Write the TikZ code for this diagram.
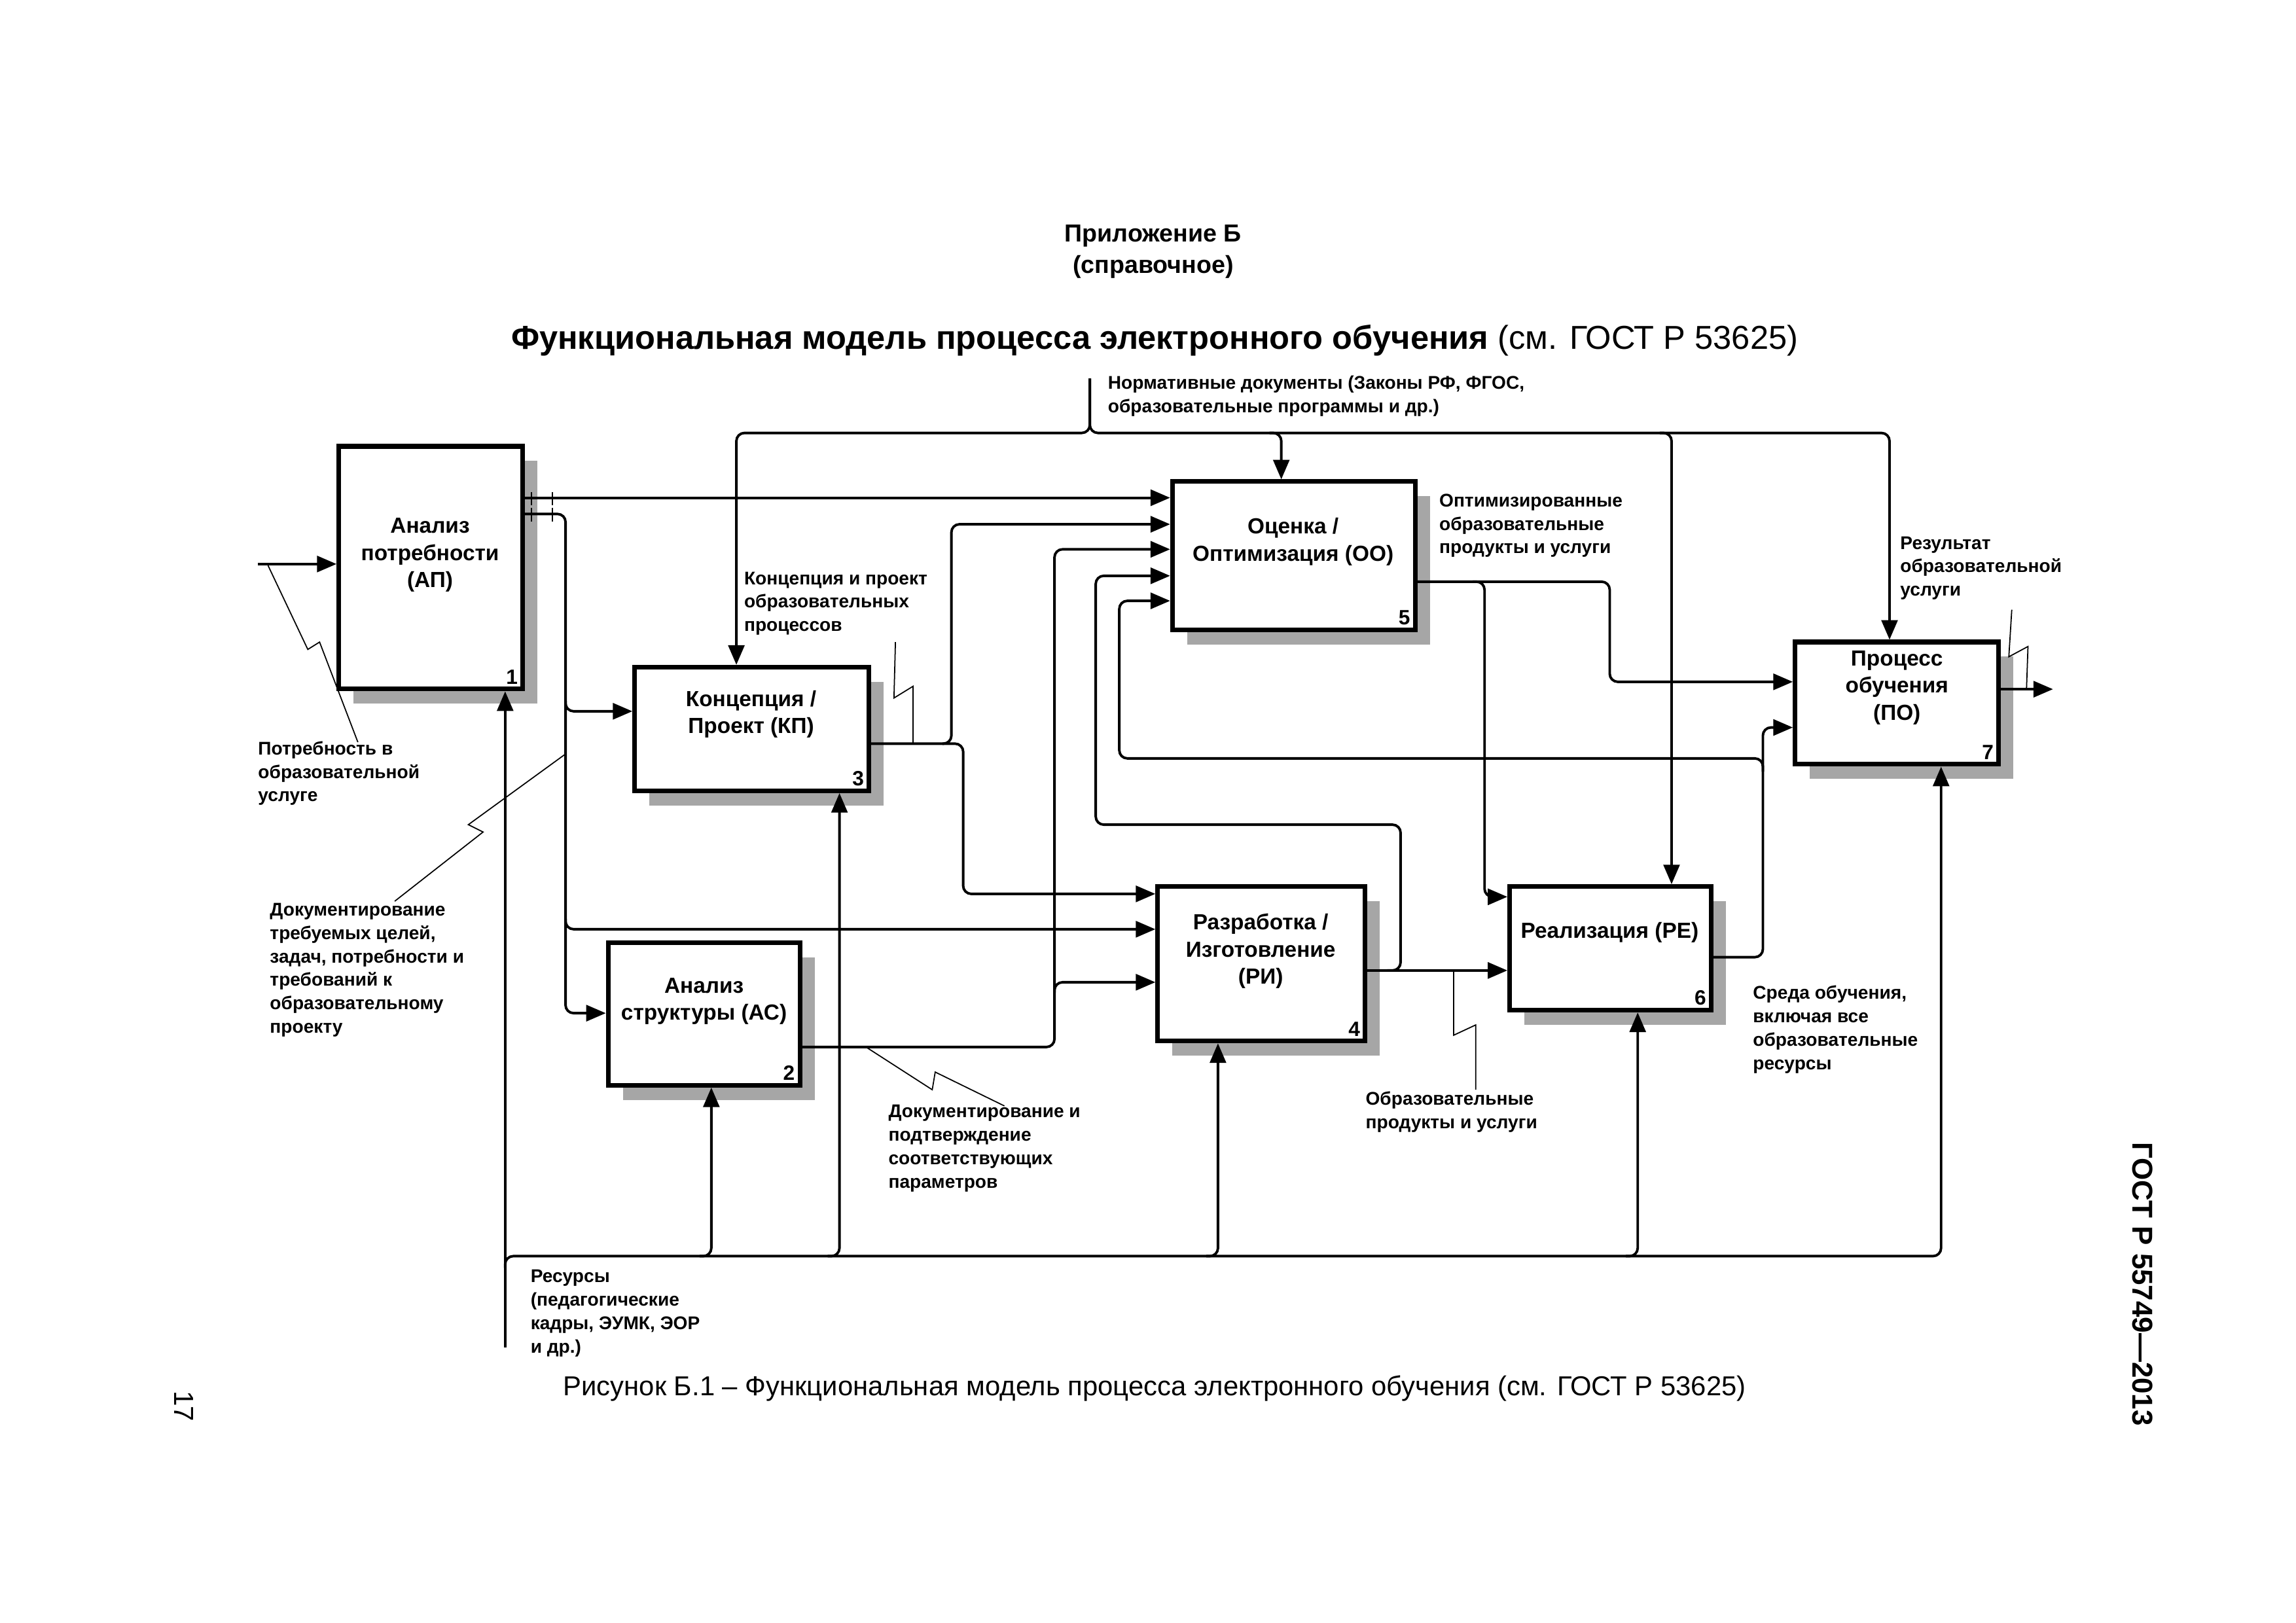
\documentclass[tikz,border=0pt]{standalone}
\usepackage{fontspec}
\setmainfont{Liberation Sans}
\usetikzlibrary{arrows.meta, shadows}

\tikzset{
  funcbox/.style={draw, line width=2pt, fill=white, inner sep=0pt,
    drop shadow={shadow xshift=6.4pt, shadow yshift=-6.4pt, fill=black!35, opacity=1}},
  boxtext/.style={align=center, inner sep=0pt, font=\fontsize{9.5}{11.8}\selectfont\bfseries},
  boxnum/.style={anchor=south east, inner sep=3pt, font=\fontsize{9}{10}\selectfont\bfseries},
  lbl/.style={anchor=north west, align=left, inner sep=0pt, font=\fontsize{8}{10.2}\selectfont\bfseries},
  flow/.style={line width=1.1pt, rounded corners=3.5pt},
  arr/.style={flow, -{Triangle[length=8.5pt, width=7pt]}},
  leader/.style={line width=0.5pt},
}

\begin{document}
\begin{tikzpicture}[x=0.0225cm, y=-0.0225cm]
    \useasboundingbox (0,0) rectangle (1559,1102);

    % Heading
    \node (annex) at (783,160) {\fontsize{10.7}{12}\selectfont\bfseries Приложение Б};
    \node (annexkind) at (783,181) {\fontsize{10.7}{12}\selectfont\bfseries (справочное)};
    \node (title) at (784,231) {\fontsize{14.4}{16}\selectfont\bfseries Функциональная модель процесса электронного обучения \mdseries(см. ГОСТ Р 53625)};
    \node (caption) at (784,943) {\fontsize{11.9}{13}\selectfont Рисунок Б.1 – Функциональная модель процесса электронного обучения (см. ГОСТ Р 53625)};
    \node[rotate=-90] (pagenum) at (125,955) {\fontsize{12}{14}\selectfont 17};
    \node[rotate=-90] (gost) at (1455,872) {\fontsize{12.5}{14}\selectfont\bfseries ГОСТ Р 55749—2013};

    % Box for needs analysis
    \node[funcbox, minimum width=2.81cm, minimum height=3.71cm] (AP) at (292.5,385.5) {};
    \node[boxtext] (APtext) at (292,377) {Анализ\\потребности\\(АП)};
    \node[boxnum] (APnum) at (AP.south east) {1};

    % Box for structure analysis
    \node[funcbox, minimum width=2.93cm, minimum height=2.18cm] (AS) at (478,688.5) {};
    \node[boxtext] (AStext) at (478,680) {Анализ\\структуры (АС)};
    \node[boxnum] (ASnum) at (AS.south east) {2};

    % Box for concept / project
    \node[funcbox, minimum width=3.58cm, minimum height=1.89cm] (KP) at (510.5,495) {};
    \node[boxtext] (KPtext) at (510,485) {Концепция /\\Проект (КП)};
    \node[boxnum] (KPnum) at (KP.south east) {3};

    % Box for development
    \node[funcbox, minimum width=3.17cm, minimum height=2.36cm] (RI) at (856.5,654.5) {};
    \node[boxtext] (RItext) at (856,646) {Разработка /\\Изготовление\\(РИ)};
    \node[boxnum] (RInum) at (RI.south east) {4};

    % Box for evaluation
    \node[funcbox, minimum width=3.71cm, minimum height=2.27cm] (OO) at (878.5,377.5) {};
    \node[boxtext] (OOtext) at (878,368) {Оценка /\\Оптимизация (ОО)};
    \node[boxnum] (OOnum) at (OO.south east) {5};

    % Box for realisation
    \node[funcbox, minimum width=3.08cm, minimum height=1.89cm] (RE) at (1093.5,644) {};
    \node[boxtext] (REtext) at (1093,633) {Реализация (РЕ)};
    \node[boxnum] (REnum) at (RE.south east) {6};

    % Box for learning process
    \node[funcbox, minimum width=3.11cm, minimum height=1.87cm] (PO) at (1288,477.5) {};
    \node[boxtext] (POtext) at (1288,467) {Процесс\\обучения\\(ПО)};
    \node[boxnum] (POnum) at (PO.south east) {7};

    % Free ends
    \coordinate (needin) at (175,383);
    \coordinate (resin) at (343,915);
    \coordinate (normin) at (740,257);
    \coordinate (resout) at (1394,468);

    % Input and outputs of AP
    \draw[arr] (needin) -- (AP.west |- 0,383);
    \draw[arr] (AP.east |- 0,338) -- (OO.west |- 0,338);
    \draw[arr] (AP.east |- 0,349) -- (384,349) -- (384,688) -- (AS.west |- 0,688);
    \draw[arr] (384,476) -- (384,483) -- (KP.west |- 0,483);
    \draw[arr] (384,624) -- (384,631) -- (RI.west |- 0,631);
    \draw[leader] (361,334) -- (361,343) (375,334) -- (375,343);
    \draw[leader] (361,345) -- (361,354) (375,345) -- (375,354);

    % Controls
    \draw[arr] (normin) -- (740,294) -- (500,294) -- (500,0 |- KP.north);
    \draw[arr] (normin) -- (740,294) -- (1283,294) -- (1283,0 |- PO.north);
    \draw[arr] (862,294) -- (870,294) -- (870,0 |- OO.north);
    \draw[arr] (1127,294) -- (1135,294) -- (1135,0 |- RE.north);

    % Mechanisms
    \draw[arr] (resin) -- (343,0 |- AP.south);
    \draw[arr] (343,861) -- (343,853) -- (1318,853) -- (1318,0 |- PO.south);
    \draw[arr] (475,853) -- (483,853) -- (483,0 |- AS.south);
    \draw[arr] (562,853) -- (570,853) -- (570,0 |- KP.south);
    \draw[arr] (819,853) -- (827,853) -- (827,0 |- RI.south);
    \draw[arr] (1104,853) -- (1112,853) -- (1112,0 |- RE.south);

    % Outputs of KP and AS
    \draw[arr] (KP.east |- 0,505) -- (646,505) -- (646,356) -- (OO.west |- 0,356);
    \draw[arr] (640,505) -- (654,505) -- (654,607) -- (RI.west |- 0,607);
    \draw[arr] (AS.east |- 0,711) -- (716,711) -- (716,373) -- (OO.west |- 0,373);
    \draw[arr] (716,674) -- (716,667) -- (RI.west |- 0,667);

    % Outputs of RI, OO, RE and PO
    \draw[arr] (RI.east |- 0,659) -- (RE.west |- 0,659);
    \draw[arr] (942,659) -- (951,659) -- (951,560) -- (744,560) -- (744,391) -- (OO.west |- 0,391);
    \draw[arr] (OO.east |- 0,395) -- (1093,395) -- (1093,463) -- (PO.west |- 0,463);
    \draw[arr] (1000,395) -- (1008,395) -- (1008,609) -- (RE.west |- 0,609);
    \draw[arr] (RE.east |- 0,650) -- (1197,650) -- (1197,494) -- (PO.west |- 0,494);
    \draw[arr] (1197,524) -- (1197,515) -- (760,515) -- (760,408) -- (OO.west |- 0,408);
    \draw[arr] (PO.east |- 0,468) -- (resout);

    % Labels
    \node[lbl] (needlbl) at (175,503) {Потребность в\\образовательной\\услуге};
    \node[lbl] (goalslbl) at (183,613) {Документирование\\требуемых целей,\\задач, потребности и\\требований к\\образовательному\\проекту};
    \node[lbl] (conceptlbl) at (505,388) {Концепция и проект\\образовательных\\процессов};
    \node[lbl] (normlbl) at (752,255) {Нормативные документы (Законы РФ, ФГОС,\\образовательные программы и др.)};
    \node[lbl] (optlbl) at (977,335) {Оптимизированные\\образовательные\\продукты и услуги};
    \node[lbl] (resultlbl) at (1290,364) {Результат\\образовательной\\услуги};
    \node[lbl] (paramlbl) at (603,750) {Документирование и\\подтверждение\\соответствующих\\параметров};
    \node[lbl] (prodlbl) at (927,741) {Образовательные\\продукты и услуги};
    \node[lbl] (envlbl) at (1190,669) {Среда обучения,\\включая все\\образовательные\\ресурсы};
    \node[lbl] (reslbl) at (360,862) {Ресурсы\\(педагогические\\кадры, ЭУМК, ЭОР\\и др.)};

    % Leaders
    \draw[leader] (182,384) -- (209,441) -- (217,436) -- (243,504);
    \draw[leader] (384,512) -- (318,560) -- (328,565) -- (268,612);
    \draw[leader] (620,505) -- (620,466) -- (607,474) -- (608,436);
    \draw[leader] (588,711) -- (633,740) -- (635,728) -- (682,751);
    \draw[leader] (987,659) -- (987,703) -- (1002,696) -- (1002,740);
    \draw[leader] (1376,468) -- (1377,439) -- (1364,446) -- (1366,414);
\end{tikzpicture}
\end{document}
